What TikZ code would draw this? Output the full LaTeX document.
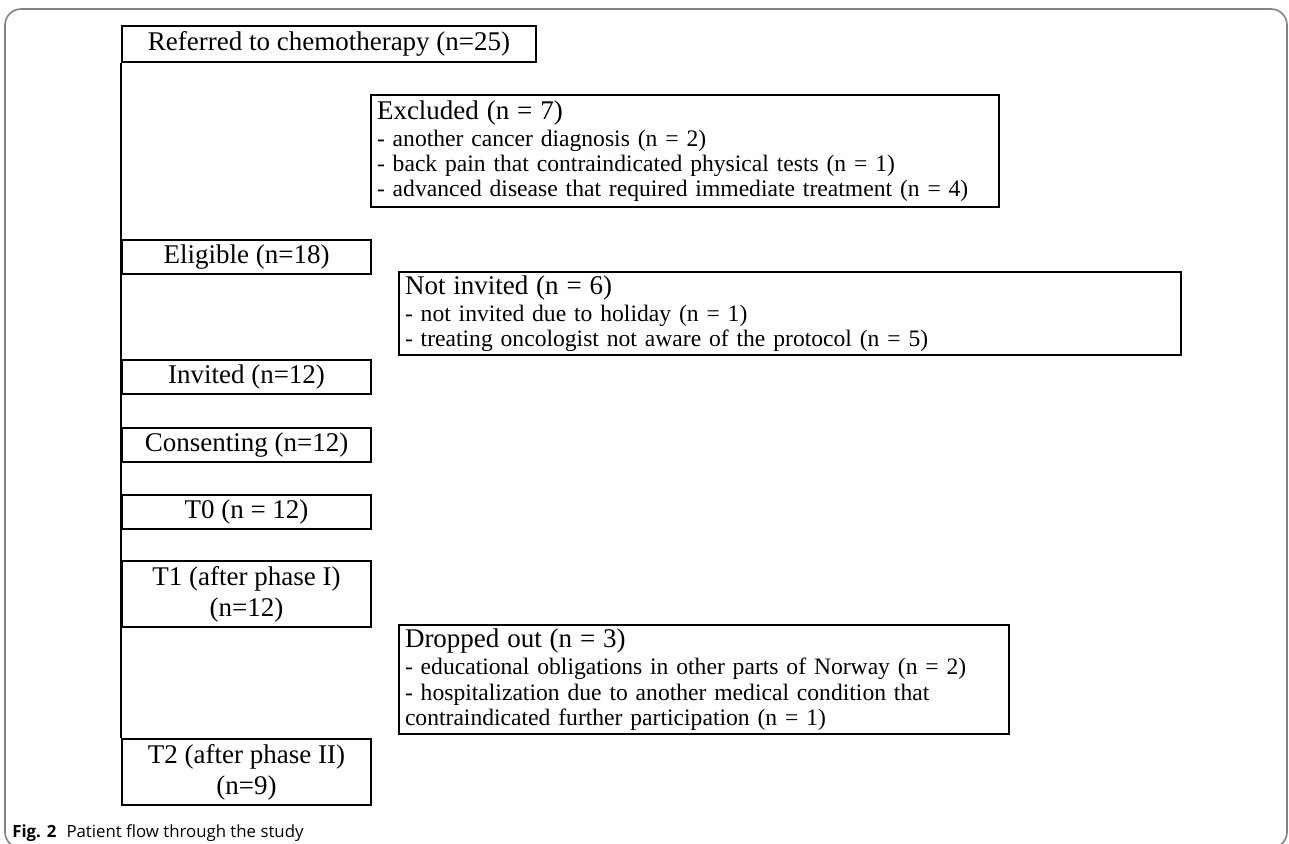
\documentclass[tikz,border=0pt]{standalone}
\usepackage{fontspec}
\setmainfont{Liberation Serif}
\newfontfamily\capfont{Open Sans}
\usetikzlibrary{positioning}
\definecolor{framegray}{RGB}{130,130,130}
\newcommand{\notetitle}[1]{{\fontsize{13.5}{15}\selectfont #1}}
\tikzset{
  stagebox/.style={draw, line width=1pt, anchor=north west, inner sep=0pt,
    minimum width=124.5pt, minimum height=17pt, align=center,
    font=\fontsize{13.5}{15.5}\selectfont},
  notebox/.style={draw, line width=1pt, inner xsep=3pt, inner ysep=1.8pt,
    align=left, font=\fontsize{11.8}{12.6}\selectfont}
}
\begin{document}
\begin{tikzpicture}[x=0.5pt,y=-0.5pt]
  \useasboundingbox (0,0) rectangle (1289,843);
  % panel border
  \draw[framegray, line width=0.8pt, rounded corners=8pt] (5,9) rectangle (1287,848);
  % main column
  \node[stagebox, minimum width=207pt, minimum height=18pt] (referred) at (121,25) {Referred to chemotherapy (n=25)};
  \node[notebox, anchor=north west, text width=308pt, minimum height=56pt] (excluded) at (370,94)
  {\notetitle{Excluded (n = 7)}\\[1pt]
   - another cancer diagnosis (n = 2)\\
   - back pain that contraindicated physical tests (n = 1)\\
   - advanced disease that required immediate treatment (n = 4)};
  \node[stagebox] (eligible) at (121,239) {Eligible (n=18)};
  \node[notebox, anchor=north west, text width=385pt] (notinvited) at (398,271)
  {\notetitle{Not invited (n = 6)}\\[1pt]
   - not invited due to holiday (n = 1)\\
   - treating oncologist not aware of the protocol (n = 5)};
  \node[stagebox] (invited) at (121,359) {Invited (n=12)};
  \node[stagebox] (consenting) at (121,427) {Consenting (n=12)};
  \node[stagebox] (tZero) at (121,494) {T0 (n = 12)};
  \node[stagebox, minimum height=33pt] (tOne) at (121,560) {T1 (after phase I)\\(n=12)};
  \node[notebox, anchor=south west, text width=299pt] (dropped) at (398,735)
  {\notetitle{Dropped out (n = 3)}\\[1pt]
   - educational obligations in other parts of Norway (n = 2)\\
   - hospitalization due to another medical condition that\\
   contraindicated further participation (n = 1)};
  \node[stagebox, minimum height=33pt] (tTwo) at (121,738) {T2 (after phase II)\\(n=9)};
  \draw[line width=1pt] (referred.south west) -- (tTwo.north west);
  % caption
  \node[anchor=west, inner sep=0pt, font=\capfont\fontsize{8.4}{10}\selectfont] (caption) at (12,833)
  {\textbf{Fig. 2}\hspace{0.6em}Patient flow through the study};
\end{tikzpicture}
\end{document}
